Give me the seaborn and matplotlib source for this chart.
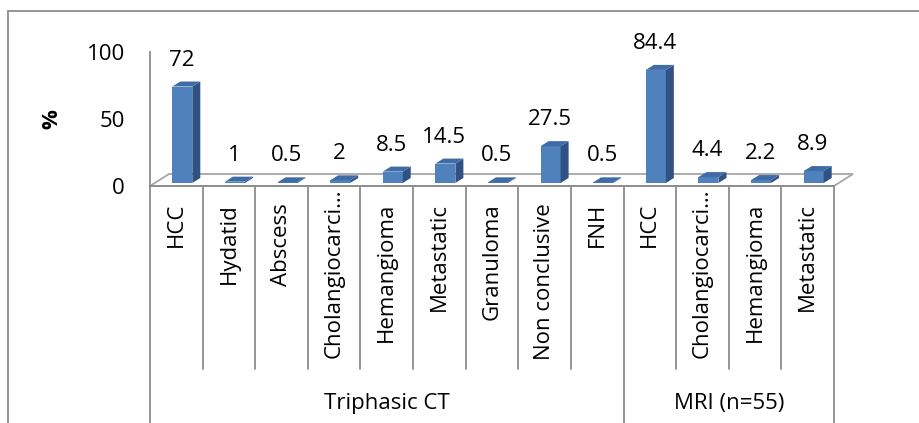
import matplotlib
matplotlib.use("Agg")
import matplotlib.pyplot as plt
from matplotlib.patches import Polygon
from matplotlib.lines import Line2D
import seaborn as sns
import pandas as pd

# ---- data -------------------------------------------------------------
ct_labels = ["HCC", "Hydatid", "Abscess", "Cholangiocarci\u2026", "Hemangioma",
             "Metastatic", "Granuloma", "Non conclusive", "FNH"]
ct_values = [72, 1, 0.5, 2, 8.5, 14.5, 0.5, 27.5, 0.5]
mri_labels = ["HCC", "Cholangiocarci\u2026", "Hemangioma", "Metastatic"]
mri_values = [84.4, 4.4, 2.2, 8.9]
groups = ["Triphasic CT", "MRI (n=55)"]
y_ticks = [0, 50, 100]

labels = ct_labels + mri_labels
values = ct_values + mri_values
group_of = [groups[0]] * len(ct_labels) + [groups[1]] * len(mri_labels)
keys = [f"{g}|{c}" for g, c in zip(group_of, labels)]
df = pd.DataFrame({"key": keys, "pct": values, "name": labels, "group": group_of})

# ---- style ------------------------------------------------------------
sns.set_theme(style="white")
plt.rcParams["font.family"] = ["Open Sans", "DejaVu Sans"]
FS = 16
GRID = "#8C8C8C"
FRONT = "#4F81BD"
SIDE = "#2F5283"
TOP = "#3F6BA6"

W, H = 920, 423
fig = plt.figure(figsize=(W / 100, H / 100), dpi=100)
fig.patch.set_facecolor("white")

x0, x1, y0, y1 = 150, 834, 186, 52
ax = fig.add_axes([x0 / W, (H - y0) / H, (x1 - x0) / W, (y0 - y1) / H])

sns.barplot(data=df, x="key", y="pct", order=keys, color=FRONT,
            width=0.38, saturation=1, ax=ax, zorder=3)

ax.set_xlim(-0.5, len(keys) - 0.5)
ax.set_ylim(0, 100)
ax.set_yticks(y_ticks)
ax.set_yticklabels([str(t) for t in y_ticks], fontsize=FS, color="black")
ax.tick_params(axis="y", direction="out", length=5, width=1.2, color=GRID, pad=13)
ax.set_xticks([])
ax.set_xlabel("")
ax.set_ylabel("")
for s in ("top", "right"):
    ax.spines[s].set_visible(False)
for s in ("left", "bottom"):
    ax.spines[s].set_color(GRID)
    ax.spines[s].set_linewidth(1.3)
ax.set_facecolor("none")

# pixel -> data unit conversions
px_x = (ax.transData.transform((1, 0)) - ax.transData.transform((0, 0)))[0]
px_y = (ax.transData.transform((0, 1)) - ax.transData.transform((0, 0)))[1]
def dxu(p):
    return p / px_x
def dyu(p):
    return p / px_y

# 3-D floor
fx, fy = dxu(19), dyu(12)
n = len(keys)
floor = Polygon([(-0.5, 0), (n - 0.5, 0), (n - 0.5 + fx, fy), (-0.5 + fx, fy)],
                closed=True, facecolor="white", edgecolor="#A6A6A6", lw=1.3,
                zorder=1, clip_on=False)
ax.add_patch(floor)

# bars: shift onto the floor and add side / top faces
ox, oy = dxu(6), dyu(3)
bx, by = dxu(8), dyu(5)
for patch, val in zip(ax.patches[:n], values):
    xl = patch.get_x() + ox
    w = patch.get_width()
    h = patch.get_height()
    patch.set_x(xl)
    patch.set_y(oy)
    patch.set_clip_on(False)
    patch.set_edgecolor("none")
    xr = xl + w
    top = oy + h
    ax.add_patch(Polygon([(xr, oy), (xr + bx, oy + by), (xr + bx, top + by), (xr, top)],
                         closed=True, facecolor=SIDE, edgecolor="none",
                         zorder=3, clip_on=False))
    ax.add_patch(Polygon([(xl, top), (xr, top), (xr + bx, top + by), (xl + bx, top + by)],
                         closed=True, facecolor=TOP, edgecolor="none",
                         zorder=3, clip_on=False))
    ax.text(xl + w / 2 - dxu(1), top + by + dyu(11), f"{val:g}", ha="center",
            va="bottom", fontsize=FS, color="black", clip_on=False)

# category axis below the floor
trans = ax.get_xaxis_transform()
def ay(py):
    return (y0 - py) / (y0 - y1)
bounds_major = {0, len(ct_labels), n}
for k in range(n + 1):
    bottom = ay(H + 5) if k in bounds_major else ay(369)
    ax.add_line(Line2D([k - 0.5, k - 0.5], [0, bottom], transform=trans,
                       color=GRID, lw=1.3, clip_on=False))
for i, name in enumerate(labels):
    # truncated names fill the whole label band, so they start higher
    top_px = 188 if name.endswith("\u2026") else 203
    ax.text(i, ay(top_px), name, rotation=90, ha="center", va="top",
            fontsize=FS, color="black", transform=trans, clip_on=False)
ax.text((len(ct_labels) - 1) / 2, ay(403), groups[0], ha="center", va="center",
        fontsize=FS, color="black", transform=trans, clip_on=False)
ax.text(len(ct_labels) + (len(mri_labels) - 1) / 2, ay(403), groups[1],
        ha="center", va="center", fontsize=FS, color="black",
        transform=trans, clip_on=False)

# y-axis title
fig.text(52 / W, 1 - 119 / H, "%", rotation=90, ha="center", va="center",
         fontsize=FS, fontweight="bold", color="black")

# chart-area frame
fig.add_artist(Line2D([8 / W, 1.0], [1 - 11 / H, 1 - 11 / H], color=GRID, lw=1.3))
fig.add_artist(Line2D([8 / W, 8 / W], [0, 1 - 11 / H], color=GRID, lw=1.3))

fig.savefig("out.png", dpi=100, facecolor="white")
